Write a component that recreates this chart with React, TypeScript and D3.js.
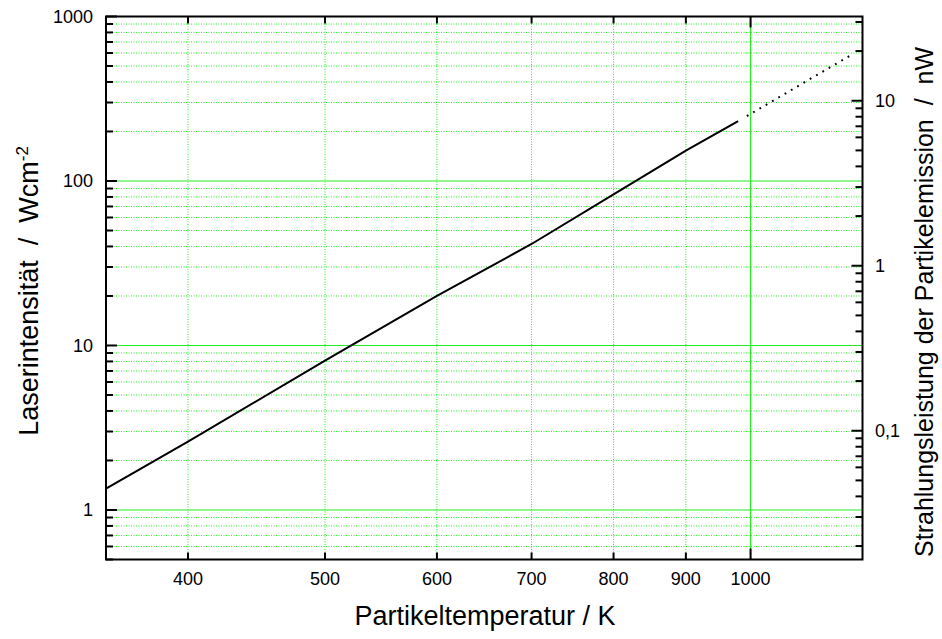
import React from "react";
import * as d3 from "d3";

// ---- data ----
const solidTemp = [350, 400, 500, 600, 700, 800, 900, 980];
const solidIntensity = [1.35, 2.6, 8.1, 20.0, 41.4, 83, 153, 231];
const dottedTemp = [994, 1033, 1107, 1176];
const dottedIntensity = [248, 301, 427, 578];

const xTickValues = [400, 500, 600, 700, 800, 900, 1000];
const xTickLabels = ["400", "500", "600", "700", "800", "900", "1000"];
const xMajorGrid = [1000];
const yLeftTickValues = [1, 10, 100, 1000];
const yLeftTickLabels = ["1", "10", "100", "1000"];
const yRightTickValues = [0.1, 1, 10];
const yRightTickLabels = ["0,1", "1", "10"];

const W = 942;
const H = 639;
const L = 106;
const R = 862.5;
const T = 16.5;
const B = 559.5;

const FONT = "'Liberation Sans', Arial, Helvetica, sans-serif";

export default function App() {
  React.useEffect(() => {
    document.body.style.margin = "0";
  }, []);

  const x = d3.scaleLog().domain([350, 1200]).range([L, R]);
  const yL = d3.scaleLog().domain([0.5, 1000]).range([B, T]);
  const yR = d3.scaleLog().domain([0.01658, 32.4]).range([B, T]);

  const isDecade = (v: number) => {
    const e = Math.log10(v);
    return Math.abs(e - Math.round(e)) < 1e-6;
  };
  const leftAll = yL.ticks(30);
  const leftMinor = leftAll.filter((v) => !isDecade(v));
  const leftMajor = leftAll.filter((v) => isDecade(v));
  const rightMinor = yR.ticks(30).filter((v) => !isDecade(v));

  const line = d3
    .line<number>()
    .x((_, i) => x(solidTemp[i]))
    .y((d) => yL(d));
  const dline = d3
    .line<number>()
    .x((_, i) => x(dottedTemp[i]))
    .y((d) => yL(d));

  const green = "#22ee22";
  const MAJ = 11;
  const MIN = 7;

  return (
    <svg
      width={W}
      height={H}
      style={{ position: "absolute", left: 0, top: 0, background: "#fff" }}
      fontFamily={FONT}
    >
      <rect x={0} y={0} width={W} height={H} fill="#fff" />
      {/* minor horizontal grid */}
      {leftMinor.map((v) => (
        <line
          key={"hg" + v}
          x1={L}
          x2={R}
          y1={yL(v)}
          y2={yL(v)}
          stroke={green}
          strokeWidth={1}
          strokeDasharray="1 1.5"
        />
      ))}
      {/* major horizontal grid */}
      {leftMajor
        .filter((v) => v < 1000)
        .map((v) => (
          <line
            key={"hm" + v}
            x1={L}
            x2={R}
            y1={yL(v)}
            y2={yL(v)}
            stroke={green}
            strokeWidth={1.2}
          />
        ))}
      {/* vertical grid */}
      {xTickValues.map((v) =>
        xMajorGrid.includes(v) ? (
          <line
            key={"vg" + v}
            x1={x(v)}
            x2={x(v)}
            y1={T}
            y2={B}
            stroke={green}
            strokeWidth={1.2}
          />
        ) : (
          <line
            key={"vg" + v}
            x1={x(v)}
            x2={x(v)}
            y1={T}
            y2={B}
            stroke={green}
            strokeWidth={1}
            strokeDasharray="1 1.5"
          />
        )
      )}

      {/* data */}
      <path
        d={line(solidIntensity) || ""}
        fill="none"
        stroke="#000"
        strokeWidth={2}
      />
      <path
        d={dline(dottedIntensity) || ""}
        fill="none"
        stroke="#000"
        strokeWidth={2}
        strokeDasharray="1.8 5.5"
      />

      {/* frame */}
      <rect
        x={L}
        y={T}
        width={R - L}
        height={B - T}
        fill="none"
        stroke="#000"
        strokeWidth={2}
      />

      {/* left ticks */}
      {leftMajor.map((v) => (
        <line key={"lt" + v} x1={L} x2={L + MAJ} y1={yL(v)} y2={yL(v)} stroke="#000" strokeWidth={2} />
      ))}
      {leftMinor.map((v) => (
        <line key={"ltm" + v} x1={L} x2={L + MIN} y1={yL(v)} y2={yL(v)} stroke="#000" strokeWidth={2} />
      ))}
      {/* right ticks */}
      {yRightTickValues.map((v) => (
        <line key={"rt" + v} x1={R} x2={R - MAJ} y1={yR(v)} y2={yR(v)} stroke="#000" strokeWidth={2} />
      ))}
      {rightMinor.map((v) => (
        <line key={"rtm" + v} x1={R} x2={R - MIN} y1={yR(v)} y2={yR(v)} stroke="#000" strokeWidth={2} />
      ))}
      {/* top & bottom ticks */}
      {xTickValues.map((v) => {
        const len = xMajorGrid.includes(v) ? MAJ : MIN;
        return (
          <g key={"xt" + v}>
            <line x1={x(v)} x2={x(v)} y1={T} y2={T + len} stroke="#000" strokeWidth={2} />
            <line x1={x(v)} x2={x(v)} y1={B} y2={B - len} stroke="#000" strokeWidth={2} />
          </g>
        );
      })}

      {/* tick labels */}
      {yLeftTickValues.map((v, i) => (
        <text
          key={"ll" + v}
          x={93}
          y={yL(v) + 6.5}
          textAnchor="end"
          fontSize={18}
          fill="#000"
        >
          {yLeftTickLabels[i]}
        </text>
      ))}
      {yRightTickValues.map((v, i) => (
        <text
          key={"rl" + v}
          x={875}
          y={yR(v) + 6.5}
          textAnchor="start"
          fontSize={18}
          fill="#000"
        >
          {yRightTickLabels[i]}
        </text>
      ))}
      {xTickValues.map((v, i) => (
        <text
          key={"xl" + v}
          x={x(v)}
          y={585}
          textAnchor="middle"
          fontSize={18}
          fill="#000"
        >
          {xTickLabels[i]}
        </text>
      ))}

      {/* axis titles */}
      <text x={485} y={625} textAnchor="middle" fontSize={27} fill="#000">
        Partikeltemperatur / K
      </text>
      <text
        transform={`translate(38,291) rotate(-90)`}
        textAnchor="middle"
        fontSize={27}
        fill="#000"
        style={{ whiteSpace: "pre" }}
      >
        {"Laserintensität  /  Wcm"}
        <tspan fontSize={17} dy={-10}>
          -2
        </tspan>
      </text>
      <text
        transform={`translate(933,302) rotate(-90)`}
        textAnchor="middle"
        fontSize={25}
        fill="#000"
        style={{ whiteSpace: "pre" }}
      >
        {"Strahlungsleistung der Partikelemission  /  nW"}
      </text>
    </svg>
  );
}
